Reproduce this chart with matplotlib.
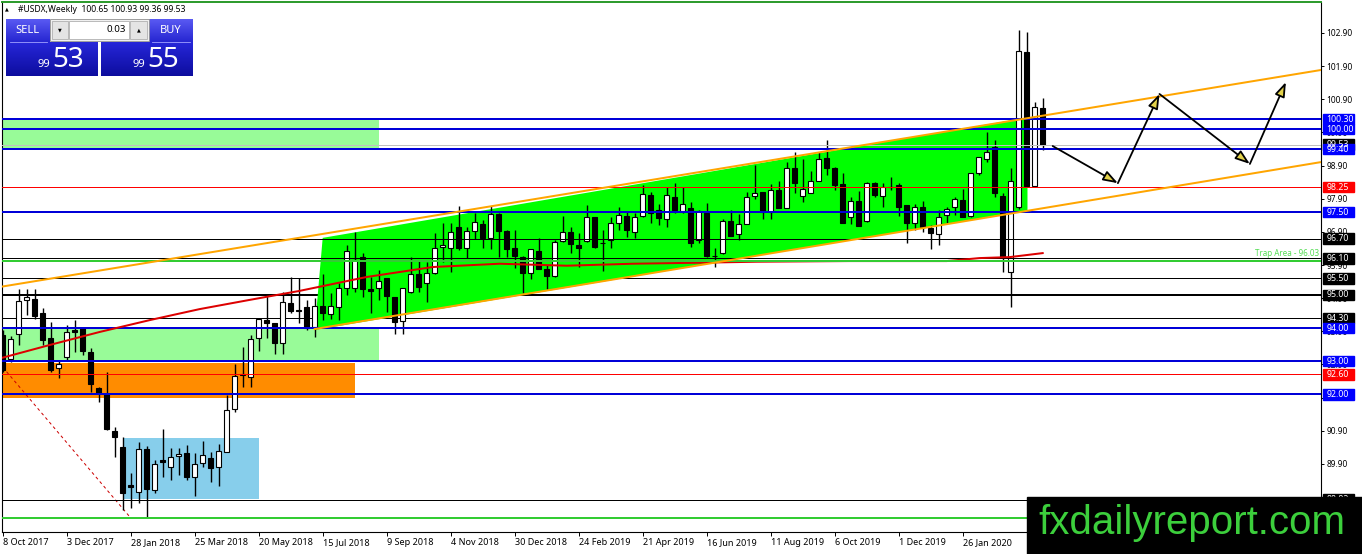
import matplotlib
matplotlib.use('Agg')
import matplotlib.pyplot as plt
from matplotlib.patches import Rectangle, Polygon
import numpy as np

plt.rcParams['font.family'] = ['Noto Sans', 'DejaVu Sans']

# weekly OHLC, bar 0 = week of 8 Oct 2017
opens = [93.79, 93.07, 93.81, 94.85, 94.88, 94.44, 93.69, 92.79, 93.12, 93.94,
         93.99, 93.28, 92.18, 92.00, 90.90, 90.42, 89.27, 89.06, 90.34, 89.12,
         90.02, 89.82, 90.14, 90.22, 89.50, 89.92, 90.07, 89.82, 90.27, 91.55,
         92.58, 92.53, 93.69, 94.24, 94.14, 93.54, 94.77, 94.53, 94.64, 94.04,
         94.67, 94.41, 94.64, 95.20, 95.20, 96.13, 95.18, 95.20, 95.50, 94.95,
         94.22, 95.10, 95.62, 95.35, 95.65, 96.44, 96.42, 97.04, 96.40, 96.93,
         97.14, 96.71, 97.44, 96.93, 96.40, 96.15, 95.65, 96.33, 95.77, 95.58,
         96.63, 96.91, 96.50, 96.63, 97.36, 96.56, 96.66, 97.18, 97.38, 96.91,
         97.38, 98.01, 97.56, 97.28, 97.94, 97.54, 97.61, 96.66, 97.48, 96.18,
         96.25, 97.23, 96.83, 97.13, 97.99, 98.11, 97.51, 98.16, 97.63, 98.82,
         97.99, 98.08, 98.44, 99.12, 98.82, 98.35, 97.34, 97.84, 97.23, 98.37,
         97.98, 98.26, 98.31, 97.70, 97.16, 97.64, 97.01, 96.84, 97.41, 97.64,
         97.86, 97.38, 98.69, 99.09, 99.45, 97.98, 95.70, 97.66, 102.34, 98.28,
         100.65]
highs = [93.94, 93.76, 95.17, 95.17, 95.17, 94.60, 94.18, 93.04, 94.09, 94.24,
         94.04, 93.39, 92.23, 92.66, 91.02, 90.70, 89.64, 90.57, 90.45, 90.02,
         90.95, 90.37, 90.37, 90.47, 90.22, 90.60, 90.27, 90.50, 91.98, 92.92,
         93.44, 93.79, 94.26, 94.99, 94.14, 95.10, 95.54, 95.51, 94.85, 94.90,
         95.63, 95.05, 95.35, 96.51, 96.91, 96.25, 95.53, 95.75, 95.50, 94.95,
         95.20, 96.15, 96.05, 96.00, 96.86, 97.16, 97.18, 97.68, 97.06, 97.46,
         97.26, 97.68, 97.46, 96.96, 96.96, 96.17, 96.38, 96.71, 95.90, 96.66,
         97.38, 97.06, 96.86, 97.71, 97.36, 96.96, 97.36, 97.66, 97.51, 97.46,
         98.31, 98.11, 97.74, 98.26, 98.37, 98.26, 97.81, 97.56, 97.78, 96.41,
         97.28, 97.56, 97.44, 98.11, 98.92, 98.11, 98.35, 98.44, 99.02, 99.32,
         99.09, 98.75, 99.32, 99.67, 98.87, 98.67, 97.96, 98.14, 98.41, 98.41,
         98.37, 98.57, 98.37, 97.70, 97.74, 97.84, 97.11, 97.56, 97.66, 97.96,
         98.19, 98.69, 99.17, 99.92, 99.67, 98.08, 98.82, 102.99, 102.94, 100.83,
         100.93]
lows = [92.67, 92.97, 93.49, 94.39, 94.26, 93.49, 92.68, 92.50, 93.04, 93.29,
        93.19, 92.08, 91.76, 90.93, 90.12, 88.51, 88.58, 88.73, 88.31, 89.01,
        89.52, 89.42, 89.57, 89.42, 88.93, 89.82, 89.37, 89.23, 90.27, 91.48,
        92.23, 92.23, 93.31, 93.69, 93.21, 93.22, 94.44, 94.14, 93.94, 93.74,
        94.24, 94.28, 94.24, 94.99, 95.10, 94.93, 94.46, 94.85, 94.49, 93.82,
        93.82, 95.05, 95.10, 94.79, 95.63, 96.00, 95.70, 96.35, 96.10, 96.68,
        96.41, 96.37, 96.15, 96.15, 95.80, 95.05, 95.47, 95.77, 95.17, 95.55,
        96.61, 96.27, 95.83, 96.61, 96.42, 95.73, 96.41, 96.96, 96.74, 96.71,
        97.34, 97.18, 97.11, 97.06, 97.46, 97.48, 96.45, 96.57, 96.15, 95.83,
        96.23, 96.78, 96.66, 97.13, 97.88, 97.28, 97.28, 97.61, 97.63, 98.06,
        97.81, 98.06, 98.44, 98.62, 98.16, 97.18, 97.14, 97.09, 97.21, 97.96,
        97.66, 98.16, 97.38, 96.57, 96.96, 96.91, 96.38, 96.50, 97.16, 97.41,
        97.34, 97.36, 98.62, 99.02, 97.96, 95.70, 94.62, 97.60, 98.28, 98.25,
        99.36]
closes = [92.73, 93.66, 94.82, 94.95, 94.37, 93.64, 92.73, 92.91, 93.89, 93.89,
          93.32, 92.30, 92.03, 90.95, 90.70, 89.03, 89.20, 90.34, 89.14, 89.90,
          89.97, 90.12, 90.20, 89.52, 89.89, 90.17, 89.79, 90.30, 91.53, 92.56,
          92.61, 93.66, 94.26, 94.16, 93.56, 94.79, 94.52, 94.51, 94.01, 94.67,
          94.44, 94.67, 95.20, 96.32, 96.05, 95.17, 95.12, 95.42, 94.98, 94.19,
          95.20, 95.62, 95.25, 95.65, 96.40, 96.50, 96.89, 96.40, 96.93, 97.19,
          96.71, 97.44, 96.94, 96.38, 96.18, 95.65, 96.38, 95.77, 95.58, 96.61,
          96.91, 96.53, 96.42, 97.36, 96.45, 96.55, 97.18, 97.41, 96.96, 97.34,
          98.04, 97.48, 97.31, 98.01, 97.56, 97.73, 96.56, 97.54, 96.17, 96.17,
          97.24, 96.78, 97.13, 97.96, 98.06, 97.51, 98.16, 97.61, 98.82, 98.38,
          98.19, 98.44, 99.09, 98.82, 98.31, 97.18, 97.83, 97.09, 98.38, 98.01,
          98.26, 98.25, 97.66, 97.18, 97.66, 97.06, 96.88, 97.34, 97.60, 97.88,
          97.34, 98.69, 99.15, 99.32, 98.08, 96.15, 98.44, 102.37, 98.28, 100.66,
          99.53]

date_ticks = [0, 8, 16, 24, 32, 40, 48, 56, 64, 72, 80, 88, 96, 104, 112, 120]
date_labels = ["8 Oct 2017", "3 Dec 2017", "28 Jan 2018", "25 Mar 2018", "20 May 2018",
               "15 Jul 2018", "9 Sep 2018", "4 Nov 2018", "30 Dec 2018", "24 Feb 2019",
               "21 Apr 2019", "16 Jun 2019", "11 Aug 2019", "6 Oct 2019", "1 Dec 2019",
               "26 Jan 2020"]
price_ticks = [102.9, 101.9, 100.9, 99.9, 98.9, 97.9, 96.9, 95.9, 94.9, 93.9,
               92.9, 91.9, 90.9, 89.9, 88.9]

# horizontal levels: value, colour, width(px), under the channel fill
levels = [100.30, 100.00, 99.40, 98.25, 97.50, 96.70, 96.10, 95.50, 95.00, 94.30,
          94.00, 93.00, 92.60, 92.00, 88.82]
level_colors = ['#0000d8', '#0000d8', '#0000d8', '#ff0000', '#0000d8', 'black', 'black',
                'black', 'black', 'black', '#0000d8', '#0000d8', '#ff0000', '#0000d8', 'black']
level_widths = [2, 2, 2, 1, 2, 1, 1, 1, 2, 1, 2, 2, 1, 2, 1]
level_under = [False, False, False, False, False, False, False, True, True, True,
               False, False, False, False, False]
bid = 99.53
trap = 96.03
bottom_green = 88.27

# moving average
ma_x = [-0.1, 5.9, 12.1, 18.4, 24.6, 30.9, 37.1, 45.5, 53.75, 62.1, 70.5, 78.75,
        87.1, 94.25, 105.9, 118.0, 122.1, 125.9, 130.0]
ma_y = [93.10, 93.49, 93.88, 94.24, 94.57, 94.85, 95.12, 95.54, 95.84, 95.94, 95.88,
        95.94, 95.97, 96.00, 96.02, 96.02, 96.11, 96.14, 96.26]

# trend channel
upper_pts = [(-0.34, 95.24), (160.9, 101.63)]
lower_pts = [(39.0, 93.97), (158.4, 98.75)]
channel = [(40.0, 96.72), (39.0, 93.94), (128.1, 97.55), (128.1, 100.35)]

# zones: x0, x1, y0, y1
zone_top = (-0.1, 47.0, 99.40, 100.30)
zone_low = (-0.1, 47.0, 93.00, 94.00)
zone_orange = (-0.1, 44.0, 91.88, 92.95)
zone_blue = (15.0, 32.0, 88.84, 90.69)
dash_line = [(0.0, 92.82), (15.9, 88.30)]

# projected path
path_x = [131.25, 139.4, 144.6, 155.9, 160.4]
path_y = [99.49, 98.37, 101.06, 98.95, 101.42]

W, H = 1362, 554
fig = plt.figure(figsize=(W / 100, H / 100), dpi=100)
ax = fig.add_axes([2 / W, 22 / H, 1319 / W, 530 / H])
ax.set_xlim(-0.0875, 164.79)
ax.set_ylim(87.847, 103.835)
px = 0.72

# zones
for (x0, x1, y0, y1), c in [(zone_top, '#98fb98'), (zone_low, '#98fb98'),
                            (zone_orange, '#ff8c00'), (zone_blue, '#87ceeb')]:
    ax.add_patch(Rectangle((x0, y0), x1 - x0, y1 - y0, color=c, lw=0, zorder=1))

for v, c, w, u in zip(levels, level_colors, level_widths, level_under):
    ax.axhline(v, color=c, lw=w * px, zorder=1.5 if u else 4)

ax.add_patch(Polygon(channel, closed=True, color='#00ff00', lw=0, zorder=2))
ax.plot([p[0] for p in dash_line], [p[1] for p in dash_line], color='#cc0000',
        lw=px, ls=(0, (3, 3)), zorder=2.5)

# candles
x = np.arange(len(opens))
o = np.array(opens)
c = np.array(closes)
ax.vlines(x, lows, highs, color='black', lw=1.0, zorder=3)
body_h = np.maximum(np.abs(c - o), 0.004)
face = ['white' if cc >= oo else 'black' for oo, cc in zip(o, c)]
ax.bar(x, body_h, bottom=np.minimum(o, c), width=0.6, color=face,
       edgecolor='black', linewidth=0.8, zorder=3.1)

ax.axhline(bid, color='#c0c0c0', lw=px, zorder=4)
ax.plot(ma_x, ma_y, color='#dd0000', lw=2 * px, zorder=4.2)
ax.axhline(trap, color='#33cc33', lw=2 * px, zorder=4.3)
ax.axhline(bottom_green, color='#33cc33', lw=2 * px, zorder=4.3)

ax.axline(upper_pts[0], upper_pts[1], color='#ffa500', lw=2 * px, zorder=4.5)
slope = (lower_pts[1][1] - lower_pts[0][1]) / (lower_pts[1][0] - lower_pts[0][0])
x_end = ax.get_xlim()[1]
ax.plot([lower_pts[0][0], x_end],
        [lower_pts[0][1], lower_pts[0][1] + slope * (x_end - lower_pts[0][0])],
        color='#ffa500', lw=2 * px, zorder=4.5)

ax.text(164.6, trap + 0.07, 'Trap Area - 96.03', color='#55dd55', fontsize=5.8,
        ha='right', va='bottom', zorder=5)

for i in range(len(path_x) - 1):
    ax.annotate('', xy=(path_x[i + 1], path_y[i + 1]), xytext=(path_x[i], path_y[i]),
                arrowprops=dict(arrowstyle='-|>,head_length=0.8,head_width=0.28',
                                fc='#e3d24a', ec='black', lw=1.3, mutation_scale=11,
                                shrinkA=0, shrinkB=0), zorder=6)

# axes cosmetics
ax.yaxis.tick_right()
ax.set_yticks(price_ticks)
ax.set_yticklabels(['%.2f' % t for t in price_ticks])
ax.set_xticks(date_ticks)
ax.set_xticklabels(date_labels, ha='left')
ax.tick_params(axis='y', direction='out', length=2.5, width=0.7, pad=1.5, labelsize=6)
ax.tick_params(axis='x', direction='out', length=3, width=0.7, pad=1.5, labelsize=6.5)
for s in ['left', 'right', 'bottom']:
    ax.spines[s].set_color('black')
    ax.spines[s].set_linewidth(0.8)
ax.spines['top'].set_color('#2a9a2a')
ax.spines['top'].set_linewidth(1.4)

# price boxes on the right scale
yt = ax.get_yaxis_transform()
box_vals = [bid] + levels
box_cols = ['black'] + [('#0000ff' if lc.startswith('#0000') else lc) for lc in level_colors]
for v, bc in zip(box_vals, box_cols):
    ax.add_patch(Rectangle((1.0013, v - 0.16), 0.0235, 0.32, transform=yt,
                           color=bc, clip_on=False, zorder=10))
    ax.text(1.0043, v, '%.2f' % v, transform=yt, color='white', fontsize=6.3,
            va='center', ha='left', clip_on=False, zorder=11)

# overlay in pixel coordinates: trade panel and watermark
ov = fig.add_axes([0, 0, 1, 1], zorder=20)
ov.set_xlim(0, W)
ov.set_ylim(H, 0)
ov.axis('off')
ov.patch.set_alpha(0)

grad_top = np.linspace(0, 1, 30).reshape(-1, 1)
blue_bot = np.array([0.05, 0.05, 0.62])


def grad_box(x0, y0, w, h, c0, c1):
    img = c0 + (c1 - c0) * grad_top[:, :, None]
    ov.imshow(img, extent=(x0, x0 + w, y0 + h, y0), aspect='auto', zorder=21)


grad_box(6, 19, 44, 23, np.array([0.35, 0.35, 0.95]), np.array([0.15, 0.15, 0.82]))
grad_box(149, 19, 44, 23, np.array([0.35, 0.35, 0.95]), np.array([0.15, 0.15, 0.82]))
grad_box(6, 42, 92, 34, np.array([0.15, 0.15, 0.85]), blue_bot)
grad_box(101, 42, 92, 34, np.array([0.15, 0.15, 0.85]), blue_bot)
ov.plot([10, 47], [41.5, 41.5], color='#a0a0ff', lw=0.6, zorder=22)
ov.plot([152, 190], [41.5, 41.5], color='#a0a0ff', lw=0.6, zorder=22)
ov.add_patch(Rectangle((50, 19), 99, 22, fc='#f0f0f0', ec='#909090', lw=0.6, zorder=22))
ov.add_patch(Rectangle((52, 21), 16, 18, fc='#e4e4e4', ec='#b0b0b0', lw=0.6, zorder=23))
ov.add_patch(Rectangle((69, 21), 60, 18, fc='white', ec='#b0b0b0', lw=0.6, zorder=23))
ov.add_patch(Rectangle((130, 21), 17, 18, fc='#e4e4e4', ec='#b0b0b0', lw=0.6, zorder=23))
ov.text(60, 30, '▼', fontsize=3.5, ha='center', va='center', zorder=24,
        family=['DejaVu Sans'])
ov.text(138.5, 30, '▲', fontsize=3.5, ha='center', va='center', zorder=24,
        family=['DejaVu Sans'])
ov.text(126, 30, '0.03', fontsize=7, ha='right', va='center', zorder=24)
ov.text(27, 30.5, 'SELL', fontsize=8, color='white', ha='center', va='center', zorder=24)
ov.text(171, 30.5, 'BUY', fontsize=8, color='white', ha='center', va='center', zorder=24)
ov.text(50, 67, '99', fontsize=8, color='white', ha='right', va='baseline', zorder=24)
ov.text(52, 67, '53', fontsize=20, color='white', ha='left', va='baseline', zorder=24)
ov.text(145, 67, '99', fontsize=8, color='white', ha='right', va='baseline', zorder=24)
ov.text(147, 67, '55', fontsize=20, color='white', ha='left', va='baseline', zorder=24)
ov.text(7, 9, '▲', fontsize=3.5, ha='center', va='center', zorder=24,
        family=['DejaVu Sans'])
ov.text(18, 9.5, '#USDX,Weekly  100.65 100.93 99.36 99.53', fontsize=6.2,
        ha='left', va='center', zorder=24)

ov.add_patch(Rectangle((1027, 497), W - 1027, H - 497, color='black', zorder=22))
ov.text(1192, 523, 'fxdailyreport.com', fontsize=29, color='#3ccf3c',
        ha='center', va='center', family=['Liberation Sans', 'DejaVu Sans'], zorder=23)

fig.savefig('out.png', dpi=100)
